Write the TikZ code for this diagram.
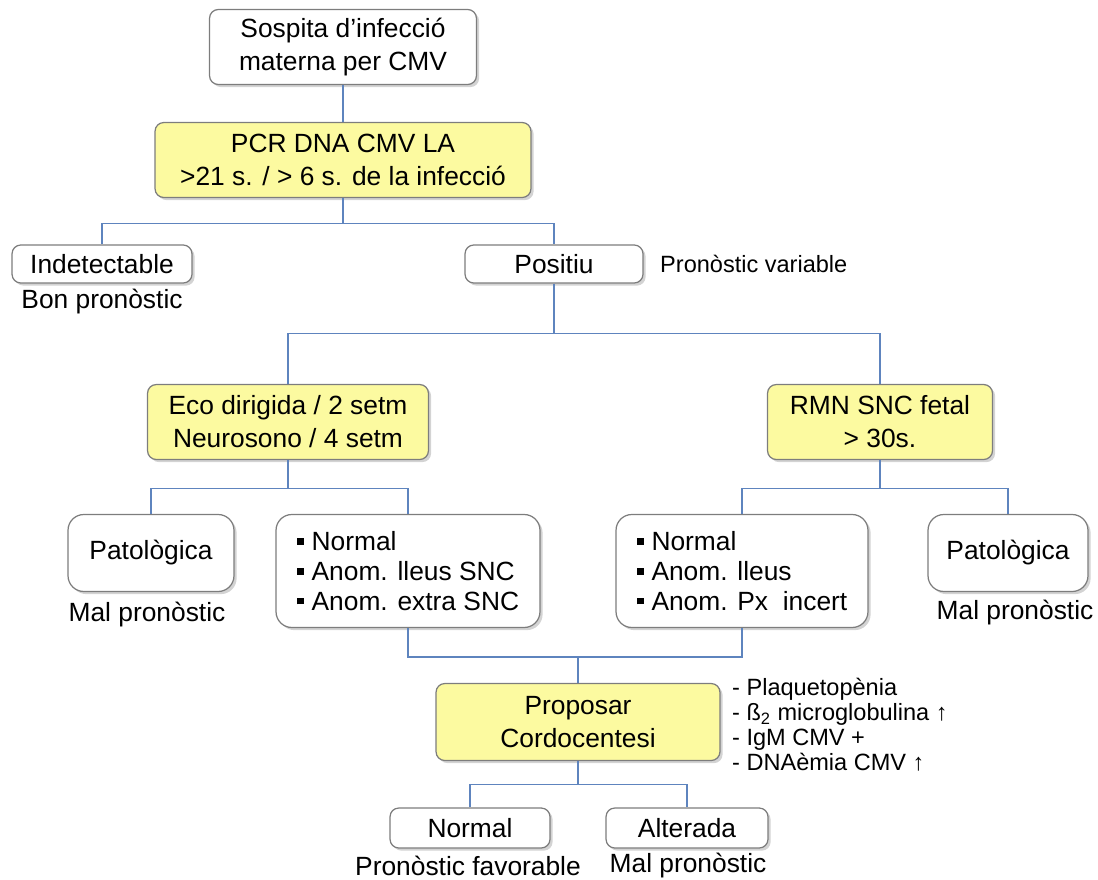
\documentclass[tikz,border=0pt]{standalone}
\usepackage{fontspec}
\setmainfont{Liberation Sans}
\usetikzlibrary{positioning,shadows}
\definecolor{linkblue}{RGB}{94,132,190}
\definecolor{boxyellow}{RGB}{252,250,160}
\definecolor{boxline}{RGB}{125,125,125}
\newcommand{\sqb}{\rule[0.22em]{0.26em}{0.26em}\hspace{0.3em}}

\begin{document}
\begin{tikzpicture}[x=0.02cm,y=-0.02cm,font=\fontsize{15}{18.8}\selectfont,
  box/.style={draw=boxline,line width=0.7pt,rounded corners=5pt,fill=white,align=center,inner sep=2pt,
    drop shadow={shadow xshift=1.5pt,shadow yshift=-1.5pt,opacity=0.35}},
  keybox/.style={box,fill=boxyellow},
  bigbox/.style={box,rounded corners=9pt},
  link/.style={draw=linkblue,line width=0.6pt},
  note/.style={font=\fontsize{13.4}{14.2}\selectfont,align=left}]
\useasboundingbox (0,0) rectangle (1098,879);

% first level
\node[box,minimum width=5.34cm,minimum height=1.5cm] (sosp) at (343,47) {Sospita d’infecció\\materna per CMV};
\node[keybox,minimum width=7.52cm,minimum height=1.5cm] (pcr) at (343,160) {PCR DNA CMV LA\\>21 s. / > 6 s. de la infecció};
\draw[link] (sosp.south) -- (pcr.north);

% PCR result
\node[box,minimum width=3.6cm,minimum height=0.76cm] (indet) at (102,264) {Indetectable};
\node[box,minimum width=3.56cm,minimum height=0.76cm] (posit) at (554,264) {Positiu};
\node (bon) at (102,302) {Bon pronòstic};
\node[note,anchor=west] (varn) at (654,264) {Pronòstic variable};
\draw[link] (pcr.south) -- ++(0,25) coordinate (j1);
\draw[link] (indet.north) |- (j1) -| (posit.north);

% imaging
\node[keybox,minimum width=5.62cm,minimum height=1.5cm] (eco) at (288,422) {Eco dirigida / 2 setm\\Neurosono / 4 setm};
\node[keybox,minimum width=4.5cm,minimum height=1.5cm] (rmn) at (880,422) {RMN SNC fetal\\> 30s.};
\draw[link] (posit.south) -- ++(0,50) coordinate (j2);
\draw[link] (eco.north) |- (j2) -| (rmn.north);

% imaging results
\node[bigbox,minimum width=3.32cm,minimum height=1.54cm] (patL) at (151,553) {Patològica};
\node (malL) at (147,615) {Mal pronòstic};
\node[bigbox,align=left,font=\fontsize{15}{17}\selectfont,minimum width=5.28cm,minimum height=2.26cm,inner xsep=8pt] (lstL) at (408,571)
  {\sqb Normal\\\sqb Anom. lleus SNC\\\sqb Anom. extra SNC};
\node[bigbox,align=left,font=\fontsize{15}{17}\selectfont,minimum width=5.04cm,minimum height=2.26cm,inner xsep=8pt] (lstR) at (742,571)
  {\sqb Normal\\\sqb Anom. lleus\\\sqb Anom. Px\ \ incert};
\node[bigbox,minimum width=3.2cm,minimum height=1.54cm] (patR) at (1008,553) {Patològica};
\node (malR) at (1015,613) {Mal pronòstic};
\draw[link] (eco.south) -- ++(0,28) coordinate (j3);
\draw[link] (patL.north) |- (j3) -| (lstL.north);
\draw[link] (rmn.south) -- ++(0,28) coordinate (j4);
\draw[link] (lstR.north) |- (j4) -| (patR.north);

% cordocentesis
\node[keybox,minimum width=5.68cm,minimum height=1.54cm] (prop) at (578,722) {Proposar\\Cordocentesi};
\node[note,anchor=west] (signs) at (726,725)
  {- Plaquetopènia\\- ß\textsubscript{2} microglobulina ↑\\- IgM CMV +\\- DNAèmia CMV ↑};
\coordinate (j5) at (578,657);
\draw[link] (lstL.south) |- (j5) -| (lstR.south);
\draw[link] (j5) -- (prop.north);

% final result
\node[box,minimum width=3.2cm,minimum height=0.8cm] (norm) at (470,828) {Normal};
\node[box,minimum width=3.24cm,minimum height=0.8cm] (alt) at (687,828) {Alterada};
\node (fav) at (468,866) {Pronòstic favorable};
\node (malB) at (688,866) {Mal pronòstic};
\draw[link] (prop.south) -- ++(0,23) coordinate (j6);
\draw[link] (norm.north) |- (j6) -| (alt.north);
\end{tikzpicture}
\end{document}
